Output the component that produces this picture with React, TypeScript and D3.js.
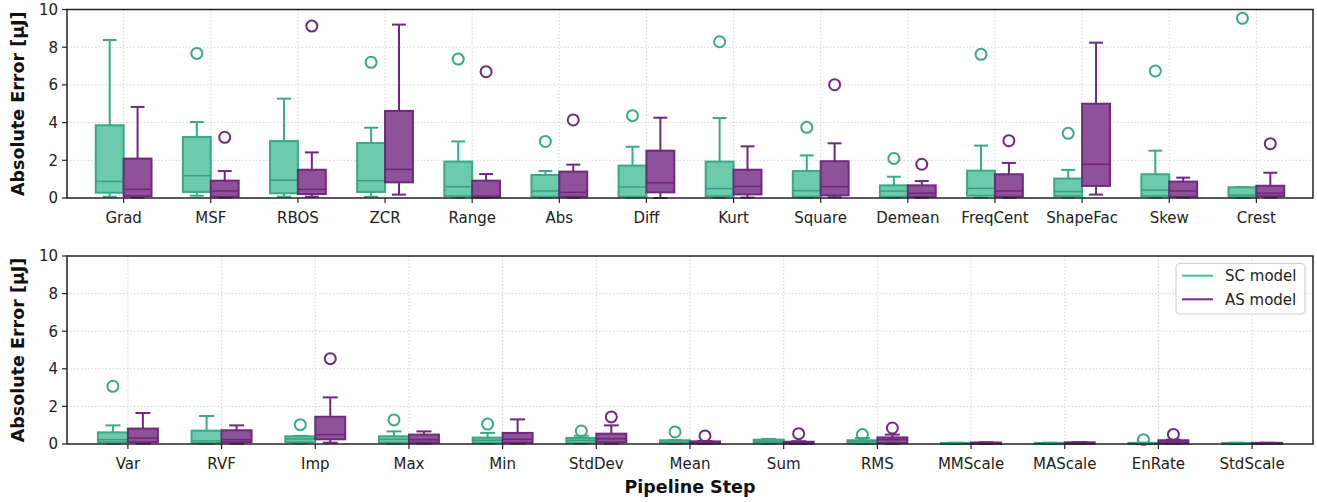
import * as d3 from 'd3'

// box stats per step: [lower whisker, q1, median, q3, upper whisker]
const topSteps = ['Grad', 'MSF', 'RBOS', 'ZCR', 'Range', 'Abs', 'Diff', 'Kurt', 'Square', 'Demean', 'FreqCent', 'ShapeFac', 'Skew', 'Crest']
const topSC = [
  [0.07, 0.28, 0.88, 3.86, 8.38],
  [0.12, 0.32, 1.18, 3.24, 4.03],
  [0.07, 0.25, 0.95, 3.02, 5.27],
  [0.07, 0.32, 0.92, 2.92, 3.73],
  [0.03, 0.1, 0.6, 1.93, 3.0],
  [0.02, 0.07, 0.37, 1.22, 1.43],
  [0.02, 0.07, 0.58, 1.72, 2.72],
  [0.02, 0.1, 0.5, 1.93, 4.24],
  [0.02, 0.07, 0.39, 1.43, 2.26],
  [0.02, 0.07, 0.37, 0.67, 1.13],
  [0.02, 0.12, 0.51, 1.45, 2.78],
  [0.02, 0.1, 0.34, 1.03, 1.49],
  [0.02, 0.1, 0.42, 1.26, 2.51],
  [0.01, 0.07, 0.16, 0.57, 0.58],
]
const topSCOutliers = [[], [7.67], [], [7.2], [7.37], [3.0], [4.37], [8.29], [3.75], [2.1], [7.62], [3.43], [6.74], [9.53]]
const topAS = [
  [0.02, 0.1, 0.46, 2.09, 4.83],
  [0.02, 0.07, 0.37, 0.92, 1.43],
  [0.07, 0.21, 0.46, 1.5, 2.42],
  [0.18, 0.83, 1.52, 4.62, 9.2],
  [0.01, 0.03, 0.1, 0.92, 1.27],
  [0.02, 0.07, 0.3, 1.4, 1.77],
  [0.0, 0.3, 0.81, 2.51, 4.26],
  [0.02, 0.19, 0.62, 1.5, 2.74],
  [0.04, 0.14, 0.6, 1.95, 2.9],
  [0.01, 0.07, 0.25, 0.67, 0.9],
  [0.01, 0.07, 0.37, 1.26, 1.86],
  [0.18, 0.64, 1.79, 5.0, 8.24],
  [0.02, 0.07, 0.37, 0.87, 1.08],
  [0.02, 0.1, 0.25, 0.65, 1.34],
]
const topASOutliers = [[], [3.22], [9.12], [], [6.7], [4.14], [], [], [6.01], [1.79], [3.04], [], [], [2.88]]

const bottomSteps = ['Var', 'RVF', 'Imp', 'Max', 'Min', 'StdDev', 'Mean', 'Sum', 'RMS', 'MMScale', 'MAScale', 'EnRate', 'StdScale']
const bottomSC = [
  [0.02, 0.1, 0.23, 0.62, 0.99],
  [0.01, 0.05, 0.16, 0.71, 1.49],
  [0.05, 0.1, 0.27, 0.41, 0.43],
  [0.02, 0.07, 0.25, 0.41, 0.67],
  [0.02, 0.07, 0.2, 0.34, 0.59],
  [0.02, 0.07, 0.2, 0.32, 0.44],
  [0.01, 0.05, 0.1, 0.2, 0.21],
  [0.01, 0.05, 0.14, 0.23, 0.27],
  [0.01, 0.04, 0.14, 0.2, 0.32],
  [0.0, 0.01, 0.03, 0.06, 0.07],
  [0.0, 0.01, 0.03, 0.06, 0.07],
  [0.0, 0.01, 0.03, 0.06, 0.07],
  [0.0, 0.01, 0.03, 0.06, 0.07],
]
const bottomSCOutliers = [[3.07], [], [1.03], [1.28], [1.06], [0.69], [0.64], [], [0.5], [], [], [0.23], []]
const bottomAS = [
  [0.02, 0.1, 0.32, 0.82, 1.65],
  [0.02, 0.1, 0.23, 0.73, 0.99],
  [0.07, 0.25, 0.5, 1.45, 2.48],
  [0.02, 0.07, 0.23, 0.5, 0.67],
  [0.02, 0.07, 0.25, 0.59, 1.31],
  [0.02, 0.09, 0.28, 0.55, 0.99],
  [0.0, 0.03, 0.06, 0.14, 0.16],
  [0.0, 0.02, 0.05, 0.12, 0.15],
  [0.01, 0.05, 0.23, 0.35, 0.5],
  [0.0, 0.01, 0.04, 0.08, 0.09],
  [0.0, 0.01, 0.05, 0.09, 0.1],
  [0.01, 0.03, 0.1, 0.2, 0.23],
  [0.0, 0.01, 0.03, 0.06, 0.07],
]
const bottomASOutliers = [[], [], [4.54], [], [], [1.44], [0.43], [0.55], [0.85], [], [], [0.51], []]

const yTicks = [0, 2, 4, 6, 8, 10]
const seriesNames = ['SC model', 'AS model']

const W = 1317
const H = 502
const LEFT = 67
const RIGHT = 1313
const FONT = 'DejaVu Sans, sans-serif'
const SC = { edge: '#3aa986', fill: '#6ccaad', median: '#3a9f7f', legend: '#45c09e' }
const AS = { edge: '#6e2a7d', fill: '#8f5199', median: '#6a2779', legend: '#7a2b8b' }

const BoxGroup = ({ stats, outliers, x, y, pos, c }) => {
  const bw = x(0.32) - x(0)
  const [lo, q1, med, q3, hi] = stats
  const cx = x(pos)
  const cap = bw / 2
  return (
    <g>
      <line x1={cx} x2={cx} y1={y(q1)} y2={y(lo)} stroke={c.edge} strokeWidth={2} />
      <line x1={cx} x2={cx} y1={y(q3)} y2={y(hi)} stroke={c.edge} strokeWidth={2} />
      <line x1={cx - cap / 2} x2={cx + cap / 2} y1={y(lo)} y2={y(lo)} stroke={c.edge} strokeWidth={2} />
      <line x1={cx - cap / 2} x2={cx + cap / 2} y1={y(hi)} y2={y(hi)} stroke={c.edge} strokeWidth={2} />
      <rect x={cx - bw / 2} y={y(q3)} width={bw} height={Math.max(0.5, y(q1) - y(q3))} fill={c.fill} stroke={c.edge} strokeWidth={2} />
      <line x1={cx - bw / 2} x2={cx + bw / 2} y1={y(med)} y2={y(med)} stroke={c.median} strokeWidth={1.5} />
      {outliers.map((o, i) => (
        <circle key={i} cx={cx} cy={y(o)} r={5.5} fill="none" stroke={c.edge} strokeWidth={2} />
      ))}
    </g>
  )
}

const Panel = ({ steps, sc, scOut, as, asOut, top, bottom, legend }) => {
  const n = steps.length
  const x = d3.scaleLinear().domain([-0.65, n - 1 + 0.65]).range([LEFT, RIGHT])
  const y = d3.scaleLinear().domain([0, 10]).range([bottom, top])
  const idx = d3.range(n)
  return (
    <g>
      {yTicks.slice(1, -1).map((t) => (
        <line key={'gy' + t} x1={LEFT} x2={RIGHT} y1={y(t)} y2={y(t)} stroke="#c8c8c8" strokeWidth={0.8} strokeDasharray="1.5,2" />
      ))}
      {idx.map((i) => (
        <line key={'gx' + i} x1={x(i)} x2={x(i)} y1={top} y2={bottom} stroke="#c8c8c8" strokeWidth={0.8} strokeDasharray="1.5,2" />
      ))}
      {idx.map((i) => (
        <BoxGroup key={'sc' + i} stats={sc[i]} outliers={scOut[i]} x={x} y={y} pos={i - 0.16} c={SC} />
      ))}
      {idx.map((i) => (
        <BoxGroup key={'as' + i} stats={as[i]} outliers={asOut[i]} x={x} y={y} pos={i + 0.16} c={AS} />
      ))}
      <rect x={LEFT} y={top} width={RIGHT - LEFT} height={bottom - top} fill="none" stroke="#222" strokeWidth={1.5} />
      {yTicks.map((t) => (
        <g key={'ty' + t}>
          <line x1={LEFT - 5} x2={LEFT} y1={y(t)} y2={y(t)} stroke="#222" strokeWidth={1.2} />
          <text x={LEFT - 9} y={y(t)} dy="0.36em" textAnchor="end" fontSize={15} fill="#222">{t}</text>
        </g>
      ))}
      {idx.map((i) => (
        <g key={'tx' + i}>
          <line x1={x(i)} x2={x(i)} y1={bottom} y2={bottom + 5} stroke="#222" strokeWidth={1.2} />
          <text x={x(i)} y={bottom + 25} textAnchor="middle" fontSize={15} fill="#222">{steps[i]}</text>
        </g>
      ))}
      <text transform={`translate(24,${(top + bottom) / 2}) rotate(-90)`} textAnchor="middle" fontSize={17.5} fontWeight="bold" fill="#111">
        Absolute Error [µJ]
      </text>
      {legend && (
        <g>
          <rect x={1176} y={263.5} width={129} height={50.5} rx={4} fill="white" fillOpacity={0.85} stroke="#d0d0d0" strokeWidth={1.2} />
          {seriesNames.map((s, i) => (
            <g key={s}>
              <line x1={1182} x2={1213} y1={275.7 + i * 23.6} y2={275.7 + i * 23.6} stroke={i === 0 ? SC.legend : AS.legend} strokeWidth={2} />
              <text x={1225} y={275.7 + i * 23.6} dy="0.36em" fontSize={15} fill="#222">{s}</text>
            </g>
          ))}
        </g>
      )}
    </g>
  )
}

export default function App() {
  return (
    <svg width={W} height={H} style={{ position: 'absolute', left: 0, top: 0, background: 'white' }} fontFamily={FONT}>
      <rect width={W} height={H} fill="white" />
      <Panel steps={topSteps} sc={topSC} scOut={topSCOutliers} as={topAS} asOut={topASOutliers} top={9.5} bottom={198} legend={false} />
      <Panel steps={bottomSteps} sc={bottomSC} scOut={bottomSCOutliers} as={bottomAS} asOut={bottomASOutliers} top={256} bottom={444} legend={true} />
      <text x={(LEFT + RIGHT) / 2} y={493} textAnchor="middle" fontSize={17.5} fontWeight="bold" fill="#111">Pipeline Step</text>
    </svg>
  )
}
